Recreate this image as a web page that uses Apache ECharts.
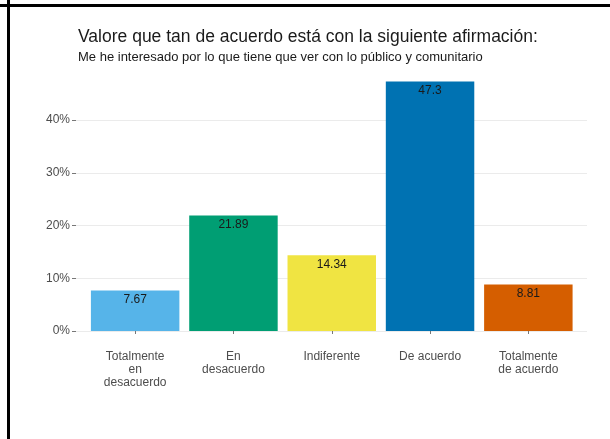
<!DOCTYPE html>
<html>
<head>
<meta charset="utf-8">
<script src="https://cdn.jsdelivr.net/npm/echarts@6/dist/echarts.min.js"></script>
<style>html,body{margin:0;padding:0;background:#fff}#c{width:610px;height:439px}</style>
</head>
<body>
<div id="c"></div>
<script>
const categories = ["Totalmente\nen\ndesacuerdo", "En\ndesacuerdo", "Indiferente", "De acuerdo", "Totalmente\nde acuerdo"];
const values = [7.67, 21.89, 14.34, 47.3, 8.81];
const colors = ["#56B4E9", "#009E73", "#F0E442", "#0072B2", "#D55E00"];
const yTicks = [0, 10, 20, 30, 40];

const chart = echarts.init(document.getElementById('c'), null, {renderer: 'canvas'});
const font = 'Liberation Sans, Arial, sans-serif';
chart.setOption({
  animation: false,
  backgroundColor: '#fff',
  title: [
    {text: 'Valore que tan de acuerdo está con la siguiente afirmación:', left: 78, top: 28, padding: 0,
     textStyle: {fontFamily: font, fontSize: 17.5, fontWeight: 'normal', color: '#1a1a1a'}},
    {text: 'Me he interesado por lo que tiene que ver con lo público y comunitario', left: 78, top: 51, padding: 0,
     textStyle: {fontFamily: font, fontSize: 13, fontWeight: 'normal', color: '#1a1a1a'}}
  ],
  graphic: [
    {type: 'rect', shape: {x: 0, y: 4, width: 610, height: 3}, style: {fill: '#000'}, z: 100},
    {type: 'rect', shape: {x: 7, y: 0, width: 3, height: 439}, style: {fill: '#000'}, z: 100}
  ],
  grid: [
    {left: 76, right: 23, top: 120, bottom: 108},
    {left: 86, right: 32.5, top: 67.25, bottom: 108}
  ],
  xAxis: [
    {gridIndex: 0, type: 'value', show: false, min: 0, max: 1},
    {gridIndex: 1, type: 'category', data: categories, offset: 12.5,
     axisLine: {show: false},
     axisTick: {show: true, alignWithLabel: true, length: 3, lineStyle: {color: '#777'}},
     axisLabel: {fontFamily: font, fontSize: 12, color: '#4d4d4d', margin: 7, lineHeight: 13, interval: 0}}
  ],
  yAxis: [
    {gridIndex: 0, type: 'value', min: yTicks[0], max: yTicks[yTicks.length - 1], interval: 10,
     axisLine: {show: false},
     axisTick: {show: true, length: 4, lineStyle: {color: '#777'}},
     axisLabel: {fontFamily: font, fontSize: 12, color: '#4d4d4d', margin: 6, formatter: '{value}%'},
     splitLine: {show: true, lineStyle: {color: '#ebebeb', width: 1}}},
    {gridIndex: 1, type: 'value', min: 0, max: 50, show: false, splitLine: {show: false}}
  ],
  series: [{
    type: 'bar', xAxisIndex: 1, yAxisIndex: 1,
    barCategoryGap: '10%',
    data: values.map((v, i) => ({value: v, itemStyle: {color: colors[i]}})),
    label: {show: true, position: 'insideTop', distance: 3, fontFamily: font, fontSize: 12, color: '#1a1a1a',
            formatter: p => String(p.value)},
    z: 5
  }]
});
</script>
</body>
</html>
